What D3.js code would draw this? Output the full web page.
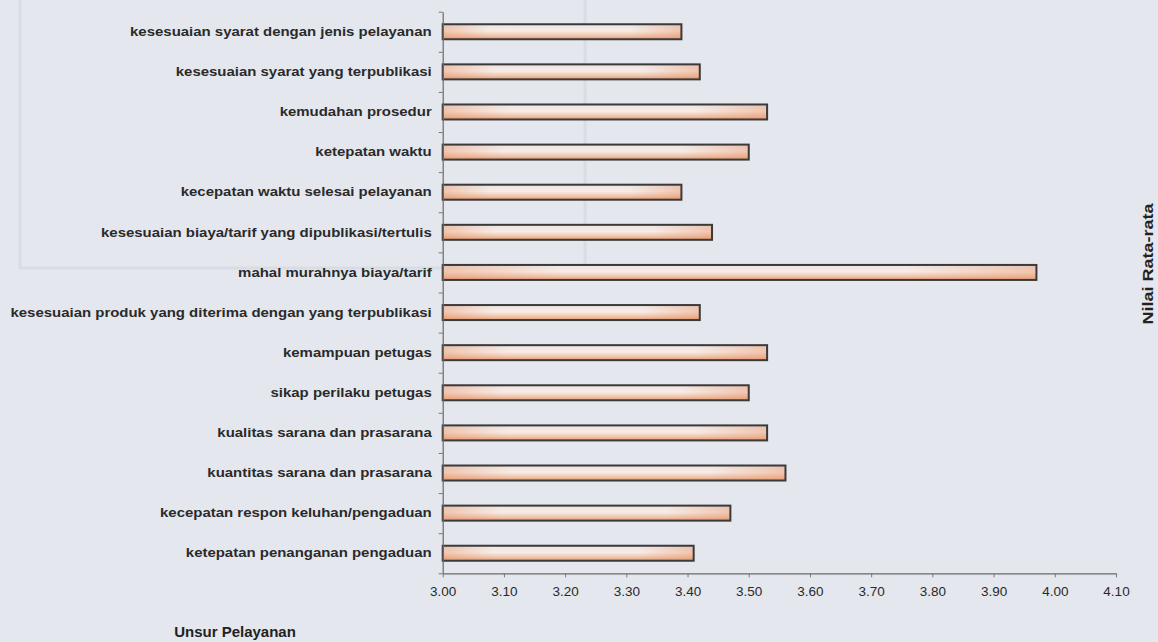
<!DOCTYPE html>
<html>
<head>
<meta charset="utf-8">
<script src="https://cdn.jsdelivr.net/npm/d3@7"></script>
<style>
  html, body { margin: 0; padding: 0; background: #e4e7ee; }
  svg { display: block; }
  text { font-family: "Liberation Sans", Arial, sans-serif; }
</style>
</head>
<body>
<svg id="chart" width="1158" height="642"></svg>
<script>
const categories = [
  "kesesuaian syarat dengan jenis pelayanan",
  "kesesuaian syarat yang terpublikasi",
  "kemudahan prosedur",
  "ketepatan waktu",
  "kecepatan waktu selesai pelayanan",
  "kesesuaian biaya/tarif yang dipublikasi/tertulis",
  "mahal murahnya biaya/tarif",
  "kesesuaian produk yang diterima dengan yang terpublikasi",
  "kemampuan petugas",
  "sikap perilaku petugas",
  "kualitas sarana dan prasarana",
  "kuantitas sarana dan prasarana",
  "kecepatan respon keluhan/pengaduan",
  "ketepatan penanganan pengaduan"
];
const values = [3.39, 3.42, 3.53, 3.50, 3.39, 3.44, 3.97, 3.42, 3.53, 3.50, 3.53, 3.56, 3.47, 3.41];
const xTicks = [3.00, 3.10, 3.20, 3.30, 3.40, 3.50, 3.60, 3.70, 3.80, 3.90, 4.00, 4.10];
const xTitle = "Nilai Rata-rata";
const yTitle = "Unsur Pelayanan";

(function () {
const svg = d3.select("#chart");
const W = 1158, H = 642;
const plotLeft = 442.7, plotRight = 1116, plotTop = 11.7, plotBottom = 573.3;

svg.append("rect").attr("width", W).attr("height", H).attr("fill", "#e4e7ee");
// faint show-through frame of the scanned page
svg.append("rect").attr("x", 20).attr("y", -6).attr("width", 565).attr("height", 274)
  .attr("fill", "none").attr("stroke", "#d9dce4").attr("stroke-width", 3);

const x = d3.scaleLinear().domain([3.0, 4.1]).range([plotLeft, plotRight]);
const y = d3.scaleBand().domain(categories).range([plotTop, plotBottom])
  .paddingInner(0.626).paddingOuter(0.313);

const defs = svg.append("defs");
const gv = defs.append("linearGradient").attr("id", "gv")
  .attr("x1", 0).attr("y1", 0).attr("x2", 0).attr("y2", 1);
gv.append("stop").attr("offset", "0%").attr("stop-color", "#eee4e4");
gv.append("stop").attr("offset", "45%").attr("stop-color", "#f7ece6");
gv.append("stop").attr("offset", "80%").attr("stop-color", "#efc0a4");
gv.append("stop").attr("offset", "100%").attr("stop-color", "#e2946c");
const gh = defs.append("linearGradient").attr("id", "gh")
  .attr("x1", 0).attr("y1", 0).attr("x2", 1).attr("y2", 0);
gh.append("stop").attr("offset", "0%").attr("stop-color", "#e8956c").attr("stop-opacity", 0.45);
gh.append("stop").attr("offset", "20%").attr("stop-color", "#e8956c").attr("stop-opacity", 0.0);
gh.append("stop").attr("offset", "78%").attr("stop-color", "#e8956c").attr("stop-opacity", 0.0);
gh.append("stop").attr("offset", "100%").attr("stop-color", "#e8956c").attr("stop-opacity", 0.45);

// bars
const bars = svg.append("g");
bars.selectAll("rect.base").data(values).join("rect").attr("class", "base")
  .attr("x", x(3.0))
  .attr("y", (d, i) => y(categories[i]))
  .attr("width", d => x(d) - x(3.0))
  .attr("height", y.bandwidth())
  .attr("fill", "url(#gv)");
bars.selectAll("rect.over").data(values).join("rect").attr("class", "over")
  .attr("x", x(3.0))
  .attr("y", (d, i) => y(categories[i]))
  .attr("width", d => x(d) - x(3.0))
  .attr("height", y.bandwidth())
  .attr("fill", "url(#gh)")
  .attr("stroke", "#3a3a3a").attr("stroke-width", 2);

// left axis line with ticks at band boundaries
const yIdx = d3.scaleLinear().domain([0, categories.length]).range([plotTop, plotBottom]);
const leftAxis = svg.append("g").attr("transform", `translate(${plotLeft},0)`)
  .call(d3.axisLeft(yIdx).ticks(categories.length).tickSize(4).tickSizeOuter(0).tickFormat(""));
leftAxis.select(".domain").attr("stroke", "#6a6a6a").attr("stroke-width", 1.2);
leftAxis.selectAll(".tick line").attr("stroke", "#777");

// category labels
const labels = svg.append("g").attr("transform", `translate(${plotLeft},0)`)
  .call(d3.axisLeft(y).tickSize(0).tickPadding(11));
labels.select(".domain").remove();
labels.selectAll(".tick text")
  .attr("font-size", 13).attr("font-weight", "bold").attr("fill", "#2a2a2a")
  .attr("font-family", "Liberation Sans, Arial, sans-serif")
  .each(function () {
    const w = this.getComputedTextLength();
    d3.select(this).attr("textLength", w * 1.15).attr("lengthAdjust", "spacingAndGlyphs");
  });

// bottom axis
const bottomAxis = svg.append("g").attr("transform", `translate(0,${plotBottom})`)
  .call(d3.axisBottom(x).tickValues(xTicks).tickFormat(d3.format(".2f"))
    .tickSize(4).tickSizeOuter(0).tickPadding(9));
bottomAxis.select(".domain").attr("stroke", "#6a6a6a").attr("stroke-width", 1.2);
bottomAxis.selectAll(".tick line").attr("stroke", "#777");
bottomAxis.selectAll(".tick text")
  .attr("font-size", 13.5).attr("fill", "#2a2a2a")
  .attr("font-family", "Liberation Sans, Arial, sans-serif");

// axis titles
svg.append("text").attr("x", 235).attr("y", 637).attr("text-anchor", "middle")
  .attr("font-size", 15).attr("font-weight", "bold").attr("fill", "#222")
  .text(yTitle);
const vt = svg.append("text")
  .attr("transform", "translate(1147,264) rotate(-90)")
  .attr("text-anchor", "middle").attr("dominant-baseline", "central")
  .attr("font-size", 15).attr("font-weight", "bold").attr("fill", "#222")
  .text(xTitle);
vt.attr("textLength", vt.node().getComputedTextLength() * 1.2).attr("lengthAdjust", "spacingAndGlyphs");
})();
</script>
</body>
</html>
